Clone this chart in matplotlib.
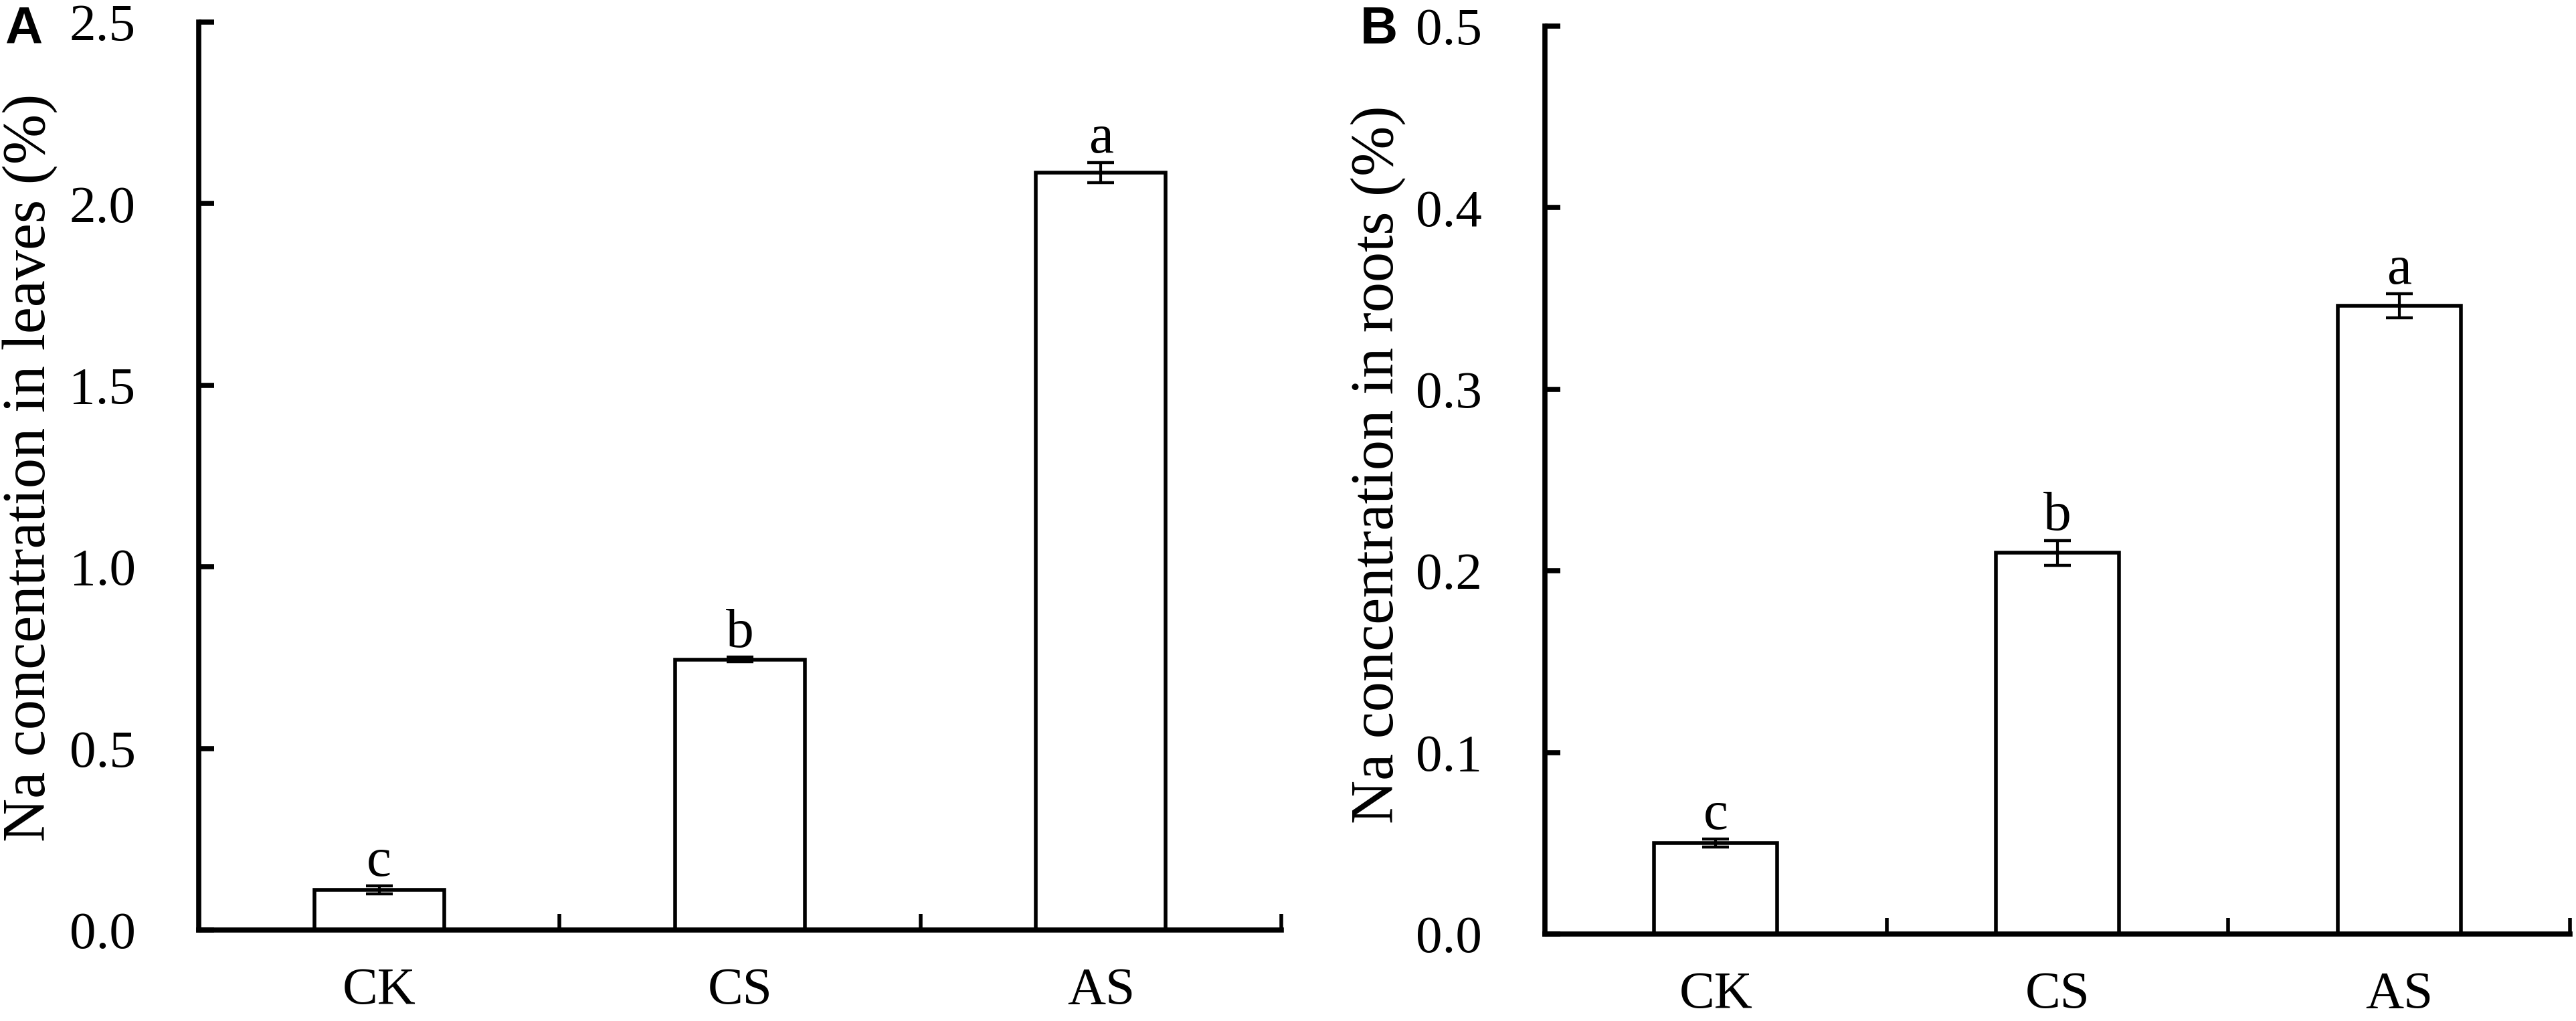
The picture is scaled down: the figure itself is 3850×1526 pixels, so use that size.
import matplotlib
matplotlib.use("Agg")
import matplotlib.pyplot as plt
import numpy as np

# data
groups = ["CK", "CS", "AS"]

leaf_na = [0.11, 0.745, 2.085]
leaf_err = [0.011, 0.007, 0.028]
leaf_letters = ["c", "b", "a"]
leaf_yticks = [0.0, 0.5, 1.0, 1.5, 2.0, 2.5]

root_na = [0.050, 0.210, 0.346]
root_err = [0.0022, 0.0068, 0.0066]
root_letters = ["c", "b", "a"]
root_yticks = [0.0, 0.1, 0.2, 0.3, 0.4, 0.5]

plt.rcParams["font.family"] = ["Liberation Serif", "DejaVu Serif"]

W, H = 3850, 1526
fig = plt.figure(figsize=(W / 100, H / 100), dpi=100)

# axes boxes in pixels: left, right, top, bottom
ax_a = fig.add_axes([297 / W, (H - 1390) / H, 1618 / W, 1357 / H])
ax_b = fig.add_axes([2309 / W, (H - 1396) / H, 1532 / W, 1357 / H])


def draw_panel(ax, vals, errs, letters, yticks, ylabel):
    x = np.arange(len(groups))
    ax.bar(x, vals, width=0.36, color="white", edgecolor="black",
           linewidth=4.0, zorder=2)
    ax.errorbar(x, vals, yerr=errs, fmt="none", ecolor="black",
                elinewidth=3.0, capsize=14.5, capthick=3.2, zorder=3)
    for xi, v, e, lab in zip(x, vals, errs, letters):
        ax.annotate(lab, (xi, v + e), xytext=(0, 11), textcoords="offset points",
                    ha="center", va="baseline", fontsize=60)

    ax.set_xlim(-0.5, len(groups) - 0.5)
    ax.set_ylim(yticks[0], yticks[-1])
    ax.set_yticks(yticks)
    ax.set_yticklabels([f"{t:.1f}" for t in yticks])
    ax.set_xticks(x)
    ax.set_xticklabels(groups)
    # tick marks sit between the groups and at the right end
    ax.set_xticks(list(x[1:] - 0.5) + [len(groups) - 0.5], minor=True)

    for s in ["top", "right"]:
        ax.spines[s].set_visible(False)
    for s in ["left", "bottom"]:
        ax.spines[s].set_linewidth(5.5)
        ax.spines[s].set_capstyle("projecting")

    ax.tick_params(axis="y", direction="in", length=16.5, width=5.5,
                   labelsize=57, pad=68)
    ax.tick_params(axis="x", which="major", length=0, labelsize=57, pad=40)
    ax.tick_params(axis="x", which="minor", direction="in", length=17, width=4)
    ax.set_ylabel(ylabel, fontsize=65, va="center")


draw_panel(ax_a, leaf_na, leaf_err, leaf_letters, leaf_yticks,
           "Na concentration in leaves (%)")
draw_panel(ax_b, root_na, root_err, root_letters, root_yticks,
           "Na concentration in roots (%)")

ax_a.yaxis.set_label_coords(45 / W, (H - 699) / H, transform=fig.transFigure)
ax_b.yaxis.set_label_coords(2060 / W, (H - 694) / H, transform=fig.transFigure)

fig.text(7 / W, 1 - 8 / H, "A", ha="left", va="top", fontsize=56,
         fontweight="bold", family="Liberation Sans")
fig.text(2033 / W, 1 - 8 / H, "B", ha="left", va="top", fontsize=56,
         fontweight="bold", family="Liberation Sans")

fig.savefig("out.png", dpi=100)
